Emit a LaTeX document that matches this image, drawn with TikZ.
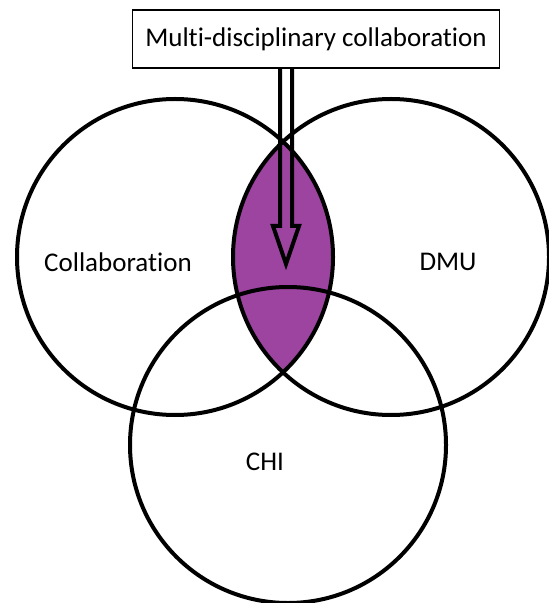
\documentclass[tikz,border=0pt]{standalone}
\usepackage{fontspec}
\setmainfont[Ligatures=NoCommon]{Carlito}
\usetikzlibrary{calc}
\definecolor{lenspurple}{HTML}{9C449F}

\begin{document}
\begin{tikzpicture}[x=0.5pt,y=-0.5pt,
    set/.style={circle, draw, line width=2pt, minimum size=158pt, inner sep=0pt},
    label/.style={font=\fontsize{13.5}{16}\selectfont},
    titlebox/.style={draw, line width=0.6pt, fill=white, minimum width=183.5pt,
                     minimum height=29pt, inner sep=1pt, font=\fontsize{13.5}{16}\selectfont},
    hollowarrow/.style={draw, line width=2pt, line join=miter}]
    \useasboundingbox (0,0) rectangle (549,603);

    % the overlap of Collaboration and DMU
    \begin{scope}
        \clip (175,257) circle (158);
        \fill[lenspurple] (391,257) circle (158);
    \end{scope}

    \node[set] at (175, 257) (collab) {};
    \node[set] at (391, 257) (dmu) {};
    \node[set] at (288, 445) (chi) {};

    \node[label] at (118, 262) (lcollab) {Collaboration};
    \node[label] at (448, 262) (ldmu) {DMU};
    \node[label] at (265, 462) (lchi) {CHI};

    \node[titlebox] at (316, 39) (multi) {Multi-disciplinary collaboration};

    \coordinate (tip) at (286, 264);
    \draw[hollowarrow]
        ($(tip|-multi.south)+(-6,0)$) -- ($(tip)+(-6,-38)$) -- ($(tip)+(-13,-38)$)
        -- (tip) -- ($(tip)+(13,-38)$) -- ($(tip)+(6,-38)$) -- ($(tip|-multi.south)+(6,0)$);
\end{tikzpicture}
\end{document}
